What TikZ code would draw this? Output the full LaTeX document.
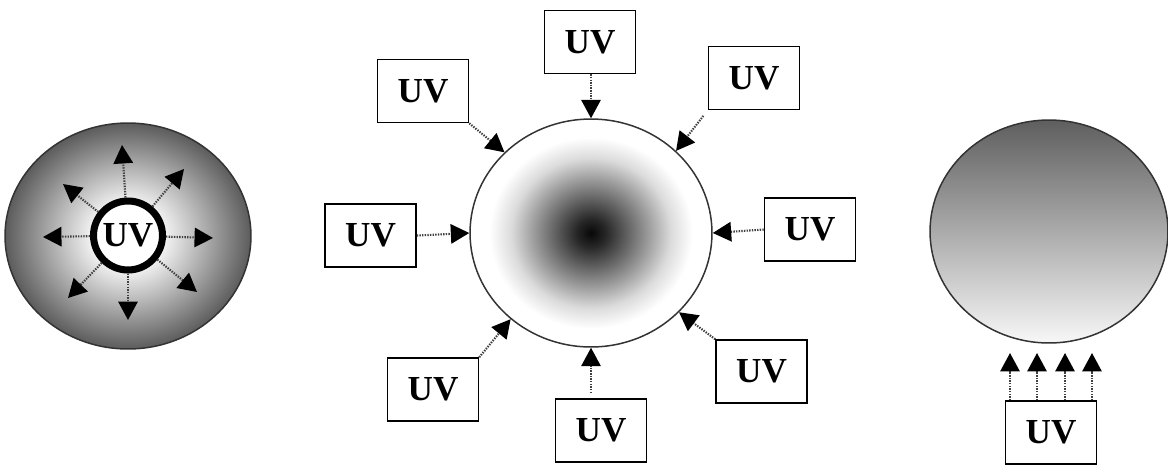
\documentclass[tikz,border=0pt]{standalone}
\usepackage{fontspec}
\setmainfont{Liberation Serif}
\usetikzlibrary{arrows.meta,shapes.geometric,calc}
% the central 50bp square of a shading is fitted to the path: edge = 25bp
\pgfdeclareradialshading{leftshade}{\pgfpoint{0bp}{0bp}}{color(0bp)=(white); color(6bp)=(white); color(15bp)=(black!30); color(25bp)=(black!64); color(50bp)=(black!64)}
\pgfdeclareradialshading{midshade}{\pgfpoint{0bp}{0bp}}{color(0bp)=(black!97); color(3bp)=(black!85); color(7bp)=(black!64); color(12bp)=(black!38); color(16.5bp)=(black!14); color(21bp)=(white); color(50bp)=(white)}
\pgfdeclareverticalshading{rightshade}{100bp}{color(0bp)=(black!3); color(25bp)=(black!3); color(75bp)=(black!63); color(100bp)=(black!63)}
\tikzset{
  uvfont/.style={font=\fontsize{20}{24}\selectfont\bfseries},
  uvbox/.style={draw=black, line width=0.9pt, fill=white, rectangle, inner sep=0pt,
    minimum width=1.82cm, minimum height=1.26cm, uvfont},
  ball/.style={ellipse, draw=black!80, line width=0.85pt, inner sep=0pt},
  uvarrow/.style={draw=black!75, line width=1.2pt, dash pattern=on 0.8pt off 0.7pt,
    -{Triangle[length=10.5pt,width=11pt,color=black]}},
}
\begin{document}
\begin{tikzpicture}[x=0.02cm,y=-0.02cm]
\useasboundingbox (0,0) rectangle (1168,464);

% ---- left: UV source inside ----
\node[ball, shading=leftshade, minimum width=4.92cm, minimum height=4.52cm] (S1) at (128,236) {};
\node[circle, draw=black, line width=4pt, fill=white, inner sep=0pt, minimum size=1.38cm, uvfont] (ring) at (128,235.5) {UV};
\coordinate (a1) at (122,145);
\coordinate (a2) at (184,169);
\coordinate (a3) at (213,238);
\coordinate (a4) at (197,292);
\coordinate (a5) at (128,320);
\coordinate (a6) at (68,298);
\coordinate (a7) at (43,237);
\coordinate (a8) at (63,184);
\foreach \t in {a1,a2,a3,a4,a5,a6,a7,a8}
  \draw[uvarrow] (ring) -- (\t);

% ---- middle: irradiated from all sides ----
\node[ball, shading=midshade, minimum width=4.84cm, minimum height=4.56cm] (C) at (591,233) {};
\node[uvbox] (T)  at (590,42) {UV};
\node[uvbox] (TL) at (423,91) {UV};
\node[uvbox] (TR) at (754,78) {UV};
\node[uvbox] (L)  at (370.5,235.5) {UV};
\node[uvbox] (R)  at (810,229.5) {UV};
\node[uvbox] (BL) at (433,389.5) {UV};
\node[uvbox] (B)  at (601,430.5) {UV};
\node[uvbox] (BR) at (761.5,371.5) {UV};
\draw[uvarrow] (C.90 |- T.south) -- (C.90);
\draw[uvarrow] (TL.south east) -- (C.137);
\draw[uvarrow, shorten <=4pt] (TR.south west) -- (C.44);
\draw[uvarrow] (L.east) -- (C.180);
\draw[uvarrow] (R.west) -- (C.0);
\draw[uvarrow] (BL.north east) -- (C.227);
\draw[uvarrow, shorten <=3pt] (C.270 |- B.north) -- (C.270);
\draw[uvarrow] (BR.north west) -- (C.318);

% ---- right: irradiated from one side ----
\node[ball, shading=rightshade, minimum width=4.76cm, minimum height=4.46cm] (S3) at (1049,231.5) {};
\node[uvbox] (RB) at (1051,432.5) {UV};
\coordinate (b1) at (1010,353);
\coordinate (b2) at (1037,353);
\coordinate (b3) at (1065,353);
\coordinate (b4) at (1092,353);
\foreach \t in {b1,b2,b3,b4}
  \draw[uvarrow] (RB.north -| \t) -- (\t);
\end{tikzpicture}
\end{document}
